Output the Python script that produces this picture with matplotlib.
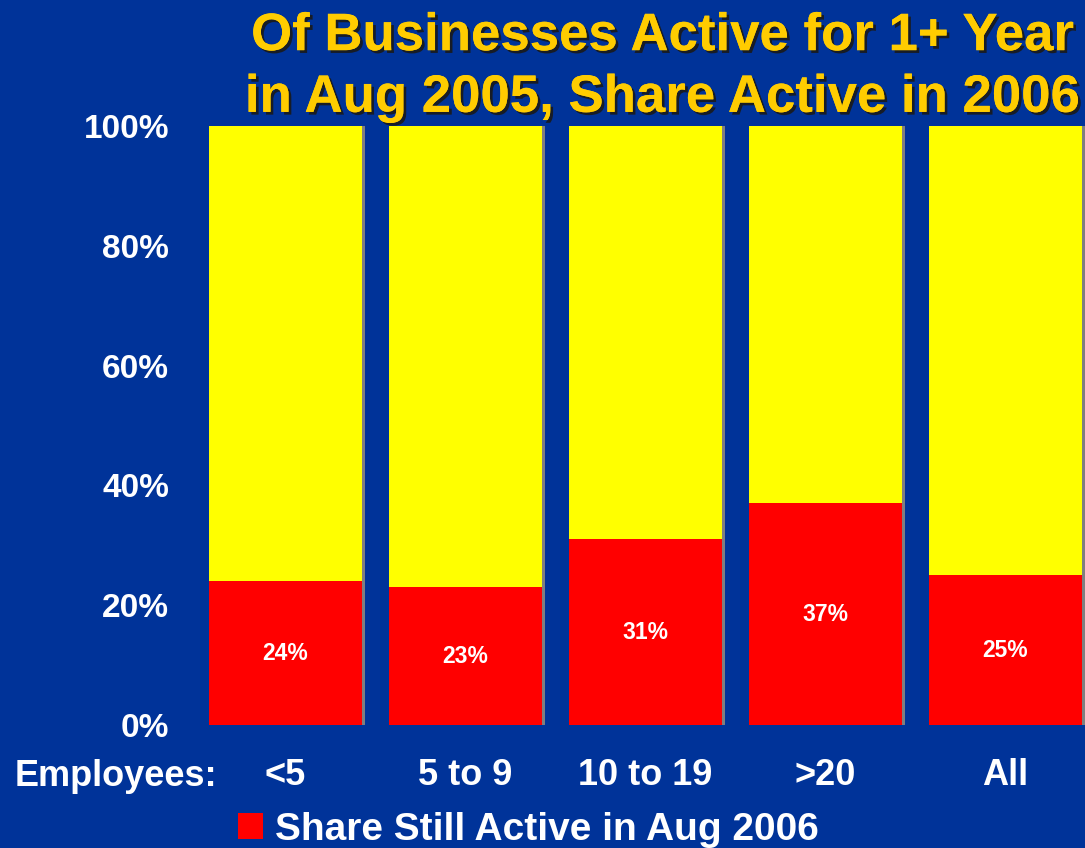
import numpy as np
import matplotlib.pyplot as plt
import matplotlib.patheffects as pe

plt.rcParams['font.family'] = ['Liberation Sans', 'DejaVu Sans']
plt.rcParams['font.weight'] = 'bold'

# Share of businesses still active a year later, by size class
sizes = ['<5', '5 to 9', '10 to 19', '>20', 'All']
still_active = [24, 23, 31, 37, 25]
y_ticks = [0, 20, 40, 60, 80, 100]

bg = '#003399'
fig = plt.figure(figsize=(10.85, 8.48), dpi=100, facecolor=bg)

left = 195.5 / 1085
bottom = 1 - 725 / 848
top = 1 - 126 / 848
ax = fig.add_axes([left, bottom, 1 - left, top - bottom])
ax.set_facecolor('none')

x = np.arange(len(sizes))
rest = [100 - v for v in still_active]
width = 0.85

# thin grey shadow on the right side of every column
ax.bar(x + 0.018, [a + r for a, r in zip(still_active, rest)], width,
       color='#7f7f7f', zorder=1)
red = ax.bar(x, still_active, width, color='#ff0000', zorder=2,
             label='Share Still Active in Aug 2006')
ax.bar(x, rest, width, bottom=still_active, color='#ffff00', zorder=2)

for xi, v in zip(x, still_active):
    ax.text(xi, v / 2, f'{v}%', ha='center', va='center', color='white',
            fontsize=16.5, fontweight='bold', zorder=3)

ax.set_xlim(-0.5, (1085 - 195.5) / 180 - 0.5)
ax.set_ylim(0, 100)
ax.set_yticks(y_ticks)
ax.set_yticklabels([f'{t}%' for t in y_ticks])
ax.set_xticks(x)
ax.set_xticklabels(sizes)
ax.tick_params(axis='y', length=0, pad=19, labelsize=24, labelcolor='white')
ax.tick_params(axis='x', length=0, pad=24, labelsize=26, labelcolor='white')
for s in ax.spines.values():
    s.set_visible(False)

fig.text(15 / 1085, 1 - 776 / 848, 'Employees:', ha='left', va='center',
         color='white', fontsize=26, fontweight='bold')

leg = fig.legend(handles=[red], loc='center left',
                 bbox_to_anchor=(238 / 1085, 1 - 830 / 848),
                 bbox_transform=fig.transFigure, frameon=False, fontsize=28,
                 handlelength=0.64, handleheight=0.64, handletextpad=0.3,
                 borderpad=0, borderaxespad=0)
for t in leg.get_texts():
    t.set_color('white')

title = fig.text(0.61, 1 - 67 / 848,
                 'Of Businesses Active for 1+ Year\nin Aug 2005, Share Active in 2006',
                 ha='center', va='center', color='#ffcc00', fontsize=38,
                 fontweight='bold', linespacing=1.3)
title.set_path_effects([pe.withSimplePatchShadow(offset=(2, -2), shadow_rgbFace='#1a1a1a',
                                                  alpha=0.9), pe.Normal()])

fig.savefig('out.png', dpi=100, facecolor=bg)
